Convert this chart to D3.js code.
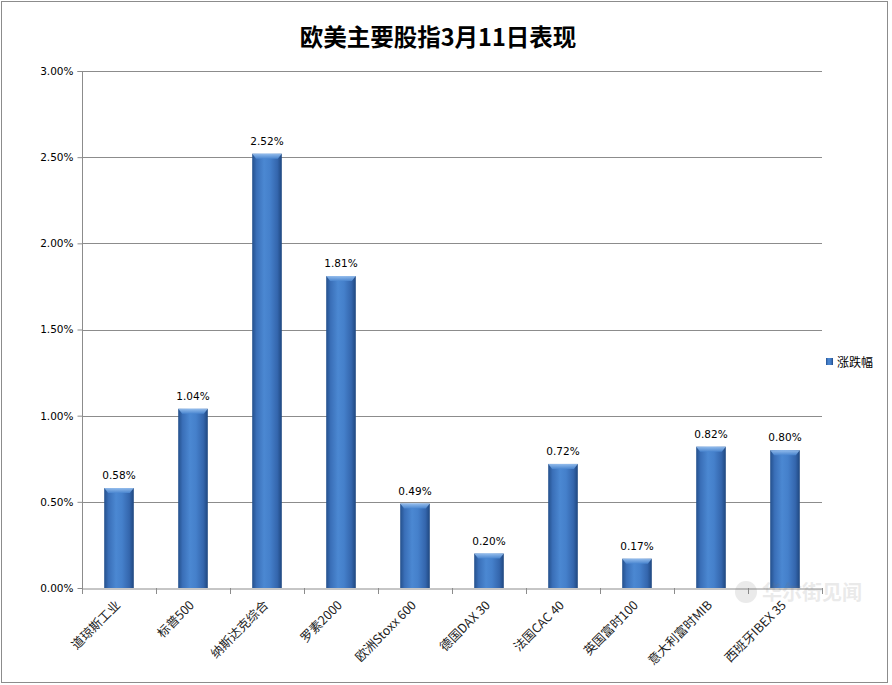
<!DOCTYPE html>
<html><head><meta charset="utf-8">
<script src="https://cdn.jsdelivr.net/npm/d3@7"></script>
<style>body{margin:0;background:#fff}svg{display:block}</style>
</head><body>
<svg id="c" width="892" height="685"></svg>
<script>
const categories = ["道琼斯工业","标普500","纳斯达克综合","罗素2000","欧洲Stoxx 600","德国DAX 30","法国CAC 40","英国富时100","意大利富时MIB","西班牙IBEX 35"];
const values = [0.58,1.04,2.52,1.81,0.49,0.20,0.72,0.17,0.82,0.80];
const yTicks = [0,0.5,1,1.5,2,2.5,3];
const seriesName = "涨跌幅";
const title = "欧美主要股指3月11日表现";

const svg = d3.select("#c");
const m = {l:82, r:822, t:71, b:588};
const x = d3.scaleBand().domain(categories).range([m.l, m.r]).paddingInner(0.6).paddingOuter(0.3);
const xb = d3.scaleBand().domain(categories).range([m.l, m.r]);
const y = d3.scaleLinear().domain([0,3]).range([m.b, m.t]);

// border
svg.append("rect").attr("x",1.5).attr("y",1.5).attr("width",886).attr("height",681)
  .attr("fill","#fff").attr("stroke","#8c8c8c").attr("stroke-width",1);

const defs = svg.append("defs");
const g = defs.append("linearGradient").attr("id","bg").attr("x1","0").attr("x2","1").attr("y1","0").attr("y2","0");
[["0%","#24508c"],["15%","#3a6fb8"],["40%","#4b88d2"],["60%","#4580cb"],["85%","#3466ad"],["100%","#1f477f"]]
  .forEach(([o,c])=>g.append("stop").attr("offset",o).attr("stop-color",c));
const gt = defs.append("linearGradient").attr("id","bt").attr("x1","0").attr("x2","0").attr("y1","0").attr("y2","1");
gt.append("stop").attr("offset","0%").attr("stop-color","#9cc3f0");
gt.append("stop").attr("offset","100%").attr("stop-color","#4a86d0");

// gridlines
svg.append("g").selectAll("line").data(yTicks.filter(d=>d>0)).join("line")
  .attr("x1",m.l).attr("x2",m.r).attr("y1",d=>Math.round(y(d))+0.5).attr("y2",d=>Math.round(y(d))+0.5)
  .attr("stroke","#8c8c8c");

// y axis
const ya = svg.append("g").attr("transform",`translate(${m.l+0.5},0)`)
  .call(d3.axisLeft(y).tickValues(yTicks).tickFormat(d=>d.toFixed(2)+"%").tickSize(5).tickPadding(4));
ya.select(".domain").attr("stroke","#8c8c8c").attr("d",`M-5,${m.t+0.5}H0V${m.b+0.5}`);
ya.selectAll(".tick line").attr("stroke","#8c8c8c");
ya.selectAll("text").attr("font-family","DejaVu Sans, Verdana, sans-serif").attr("font-size",10.5).attr("fill","#000");

// x axis
const xa = svg.append("g").attr("transform",`translate(0,${m.b+0.5})`)
  .call(d3.axisBottom(xb).tickSize(0).tickFormat(""));
xa.select(".domain").attr("stroke","#8c8c8c");
xa.selectAll(".tick").remove();
svg.append("g").selectAll("line").data(categories).join("line")
  .attr("x1",d=>Math.round(xb(d)+xb.bandwidth())+0.5).attr("x2",d=>Math.round(xb(d)+xb.bandwidth())+0.5)
  .attr("y1",m.b).attr("y2",m.b+6).attr("stroke","#8c8c8c");
svg.append("line").attr("x1",m.l+0.5).attr("x2",m.l+0.5).attr("y1",m.b).attr("y2",m.b+6).attr("stroke","#8c8c8c");

svg.append("g").selectAll("text").data(categories).join("text")
  .attr("transform",d=>`translate(${xb(d)+xb.bandwidth()/2+2},${m.b+18}) rotate(-45)`)
  .attr("text-anchor","end").attr("font-family","Noto Sans CJK SC, sans-serif").attr("font-size",12.5).attr("fill","#222")
  .text(d=>d);

// bars
const bars = svg.append("g").selectAll("g").data(values).join("g");
bars.append("rect").attr("x",(d,i)=>x(categories[i])).attr("y",d=>y(d)).attr("width",x.bandwidth())
  .attr("height",d=>m.b-y(d)).attr("fill","url(#bg)");
bars.append("path").attr("d",(d,i)=>{const x0=x(categories[i]),w=x.bandwidth(),y0=y(d);
  return `M${x0},${y0}H${x0+w}L${x0+w-4},${y0+5}H${x0+4}Z`;}).attr("fill","url(#bt)").attr("opacity",0.9);

// labels
svg.append("g").selectAll("text").data(values).join("text")
  .attr("x",(d,i)=>x(categories[i])+x.bandwidth()/2).attr("y",d=>y(d)-9)
  .attr("text-anchor","middle").attr("font-family","DejaVu Sans, Verdana, sans-serif").attr("font-size",10.5).attr("fill","#000")
  .text(d=>d.toFixed(2)+"%");

// title
svg.append("text").attr("x",438).attr("y",46).attr("text-anchor","middle")
  .attr("font-family","Noto Sans CJK SC, sans-serif").attr("font-weight","bold").attr("font-size",23.5).text(title);

// legend
svg.append("rect").attr("x",826).attr("y",358).attr("width",7).attr("height",7).attr("fill","url(#bg)");
svg.append("text").attr("x",837).attr("y",367).attr("font-family","Noto Sans CJK SC, sans-serif").attr("font-size",12).text(seriesName);

// watermark
const wm = svg.append("g").attr("opacity",0.15);
wm.append("circle").attr("cx",746).attr("cy",592).attr("r",11).attr("fill","#777");
wm.append("text").attr("x",762).attr("y",600).attr("font-family","Noto Sans CJK SC, sans-serif").attr("font-weight","bold").attr("font-size",20).attr("fill","#777").text("华尔街见闻");
</script>
</body></html>
